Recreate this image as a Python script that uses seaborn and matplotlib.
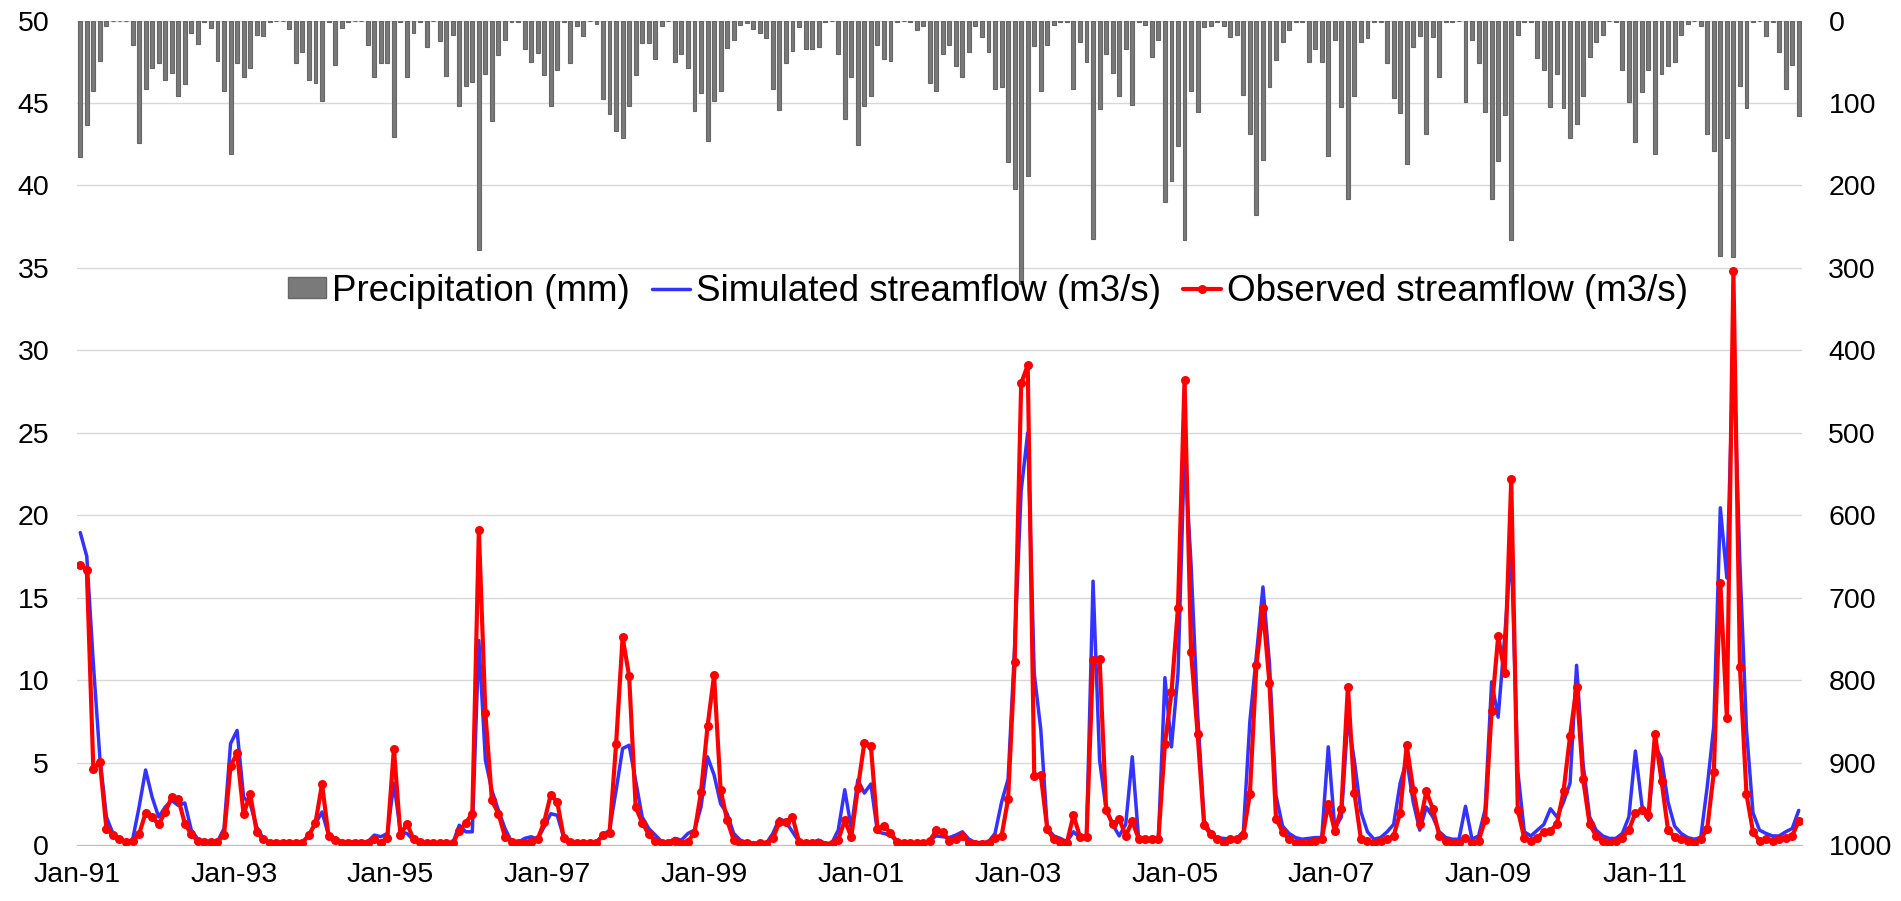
import numpy as np
import pandas as pd
import seaborn as sns
import matplotlib.pyplot as plt
from matplotlib.patches import Patch
from matplotlib.lines import Line2D

# Monthly precipitation (mm), Jan 1991 - Dec 2012
precipitation = [
    166, 127, 85, 49, 6, 0, 0, 1, 29, 148,
    83, 57, 51, 72, 63, 91, 77, 15, 28, 2,
    9, 49, 86, 162, 52, 69, 58, 18, 19, 2,
    0, 0, 10, 51, 38, 72, 76, 97, 2, 54,
    9, 2, 1, 1, 30, 69, 51, 51, 141, 2,
    68, 15, 2, 32, 0, 25, 67, 18, 103, 79,
    74, 278, 65, 122, 42, 23, 2, 2, 34, 50,
    39, 66, 104, 60, 2, 51, 6, 19, 1, 4,
    95, 113, 134, 143, 104, 66, 27, 27, 47, 6,
    0, 50, 40, 57, 110, 88, 146, 97, 86, 33,
    23, 5, 3, 10, 15, 21, 83, 108, 52, 37,
    8, 35, 34, 32, 2, 0, 41, 119, 68, 151,
    103, 91, 30, 47, 49, 2, 0, 2, 12, 6,
    76, 85, 40, 30, 55, 68, 38, 7, 20, 38,
    83, 80, 172, 204, 320, 189, 31, 85, 30, 5,
    2, 2, 83, 26, 50, 265, 107, 40, 64, 91,
    35, 102, 2, 5, 44, 23, 220, 194, 152, 266,
    86, 111, 8, 6, 2, 7, 20, 17, 90, 137,
    236, 169, 81, 48, 26, 11, 2, 2, 50, 34,
    50, 164, 23, 105, 216, 91, 26, 21, 2, 2,
    51, 94, 112, 174, 32, 19, 137, 20, 69, 2,
    2, 0, 99, 23, 51, 111, 217, 170, 115, 266,
    17, 2, 2, 45, 60, 105, 65, 106, 143, 125,
    91, 44, 26, 17, 0, 2, 60, 99, 147, 87,
    60, 162, 65, 55, 50, 17, 4, 0, 7, 138,
    158, 286, 142, 287, 79, 106, 2, 0, 19, 2,
    38, 83, 54, 116,
]

# Simulated streamflow (m3/s)
simulated = [
    18.95, 17.5, 11.0, 5.3, 1.7, 0.7, 0.35, 0.2, 0.3, 2.3,
    4.55, 2.9, 1.7, 2.3, 2.7, 2.4, 2.55, 0.9, 0.35, 0.2,
    0.2, 0.2, 1.0, 6.15, 6.95, 2.9, 2.5, 1.1, 0.4, 0.15,
    0.15, 0.15, 0.15, 0.15, 0.15, 0.6, 1.3, 2.0, 0.6, 0.4,
    0.2, 0.2, 0.2, 0.2, 0.2, 0.6, 0.5, 0.7, 3.75, 0.8,
    0.7, 0.3, 0.2, 0.1, 0.1, 0.1, 0.1, 0.1, 1.2, 0.8,
    0.8, 12.4, 5.15, 3.3, 2.1, 1.0, 0.2, 0.15, 0.4, 0.5,
    0.35, 1.1, 1.9, 1.8, 0.45, 0.2, 0.15, 0.15, 0.15, 0.15,
    0.6, 0.9, 3.3, 5.85, 6.05, 3.9, 1.7, 1.0, 0.6, 0.2,
    0.15, 0.4, 0.3, 0.7, 0.9, 2.3, 5.35, 4.25, 2.5, 1.9,
    0.7, 0.3, 0.15, 0.1, 0.15, 0.1, 0.7, 1.6, 1.4, 0.8,
    0.2, 0.15, 0.15, 0.3, 0.1, 0.1, 0.9, 3.35, 1.0, 3.95,
    3.15, 3.7, 0.8, 0.7, 0.6, 0.2, 0.1, 0.15, 0.1, 0.1,
    0.3, 0.55, 0.5, 0.45, 0.6, 0.8, 0.35, 0.15, 0.15, 0.2,
    0.7, 2.6, 4.0, 12.0, 21.5, 25.0, 10.4, 7.0, 1.0, 0.55,
    0.4, 0.2, 0.8, 0.45, 0.55, 16.0, 5.15, 2.15, 1.25, 0.55,
    1.25, 5.35, 0.25, 0.25, 0.25, 0.35, 10.15, 5.95, 10.4, 24.0,
    17.0, 8.0, 1.5, 0.7, 0.45, 0.4, 0.35, 0.4, 0.8, 7.5,
    11.5, 15.65, 11.0, 3.0, 1.15, 0.7, 0.45, 0.35, 0.4, 0.45,
    0.45, 5.95, 1.0, 1.7, 7.65, 5.1, 2.0, 0.8, 0.35, 0.45,
    0.8, 1.25, 3.75, 5.15, 2.6, 0.9, 2.3, 1.7, 0.8, 0.45,
    0.35, 0.35, 2.35, 0.35, 0.55, 2.15, 9.9, 7.75, 12.65, 18.1,
    4.5, 0.8, 0.55, 0.9, 1.25, 2.2, 1.7, 2.6, 3.75, 10.9,
    4.9, 1.7, 0.9, 0.55, 0.4, 0.4, 0.7, 1.7, 5.7, 2.4,
    1.5, 6.05, 5.25, 2.6, 1.15, 0.7, 0.45, 0.35, 0.45, 3.55,
    7.2, 20.45, 16.2, 30.0, 17.0, 7.0, 1.95, 0.9, 0.7, 0.55,
    0.55, 0.8, 1.0, 2.1,
]

# Observed streamflow (m3/s)
observed = [
    17.0, 16.7, 4.6, 5.05, 1.0, 0.6, 0.35, 0.2, 0.25, 0.65,
    1.95, 1.7, 1.25, 2.0, 2.9, 2.8, 1.3, 0.65, 0.25, 0.2,
    0.2, 0.2, 0.6, 4.8, 5.55, 1.85, 3.1, 0.8, 0.35, 0.15,
    0.15, 0.15, 0.15, 0.15, 0.15, 0.6, 1.35, 3.7, 0.55, 0.3,
    0.15, 0.15, 0.15, 0.15, 0.15, 0.35, 0.15, 0.45, 5.85, 0.6,
    1.3, 0.35, 0.2, 0.1, 0.1, 0.1, 0.1, 0.1, 0.85, 1.35,
    1.9, 19.1, 8.0, 2.7, 1.9, 0.5, 0.2, 0.15, 0.15, 0.2,
    0.35, 1.4, 3.05, 2.6, 0.45, 0.2, 0.15, 0.15, 0.15, 0.15,
    0.6, 0.7, 6.1, 12.6, 10.25, 2.3, 1.35, 0.65, 0.25, 0.1,
    0.1, 0.25, 0.1, 0.2, 0.75, 3.2, 7.2, 10.3, 3.35, 1.5,
    0.3, 0.1, 0.1, 0.0, 0.15, 0.05, 0.4, 1.4, 1.4, 1.7,
    0.2, 0.15, 0.15, 0.15, 0.0, 0.05, 0.3, 1.5, 0.5, 3.45,
    6.2, 6.0, 1.0, 1.15, 0.75, 0.2, 0.1, 0.15, 0.1, 0.1,
    0.25, 0.9, 0.8, 0.25, 0.35, 0.55, 0.15, 0.05, 0.05, 0.15,
    0.45, 0.55, 2.8, 11.1, 28.0, 29.1, 4.2, 4.25, 0.95, 0.35,
    0.2, 0.15, 1.8, 0.5, 0.5, 11.2, 11.3, 2.15, 1.25, 1.6,
    0.55, 1.45, 0.35, 0.35, 0.35, 0.35, 6.15, 9.25, 14.4, 28.2,
    11.7, 6.75, 1.2, 0.65, 0.35, 0.1, 0.35, 0.35, 0.6, 3.1,
    10.9, 14.35, 9.8, 1.6, 0.8, 0.35, 0.15, 0.1, 0.15, 0.25,
    0.35, 2.5, 0.85, 2.2, 9.6, 3.15, 0.35, 0.25, 0.1, 0.25,
    0.35, 0.55, 1.95, 6.05, 3.35, 1.25, 3.25, 2.2, 0.55, 0.25,
    0.15, 0.15, 0.45, 0.1, 0.25, 1.5, 8.15, 12.65, 10.45, 22.2,
    2.15, 0.4, 0.25, 0.45, 0.8, 0.85, 1.3, 3.25, 6.6, 9.6,
    4.0, 1.25, 0.55, 0.25, 0.1, 0.25, 0.45, 0.9, 1.95, 2.1,
    1.8, 6.75, 3.9, 0.9, 0.5, 0.35, 0.25, 0.1, 0.35, 1.0,
    4.4, 15.9, 7.7, 34.8, 10.8, 3.1, 0.8, 0.25, 0.35, 0.25,
    0.35, 0.45, 0.55, 1.45,
]

tick_labels = ['Jan-91', 'Jan-93', 'Jan-95', 'Jan-97', 'Jan-99', 'Jan-01',
               'Jan-03', 'Jan-05', 'Jan-07', 'Jan-09', 'Jan-11']

months = pd.date_range('1991-01-01', periods=len(precipitation), freq='MS')
df = pd.DataFrame({
    'pos': np.arange(len(months)),
    'month': months,
    'precip': precipitation,
    'sim': simulated,
    'obs': observed,
})

sns.set_style('white')
plt.rcParams['font.family'] = ['Liberation Sans', 'DejaVu Sans']
plt.rcParams['text.color'] = 'black'
plt.rcParams['xtick.color'] = 'black'
plt.rcParams['ytick.color'] = 'black'

bar_color = '#7a7a7a'
blue = '#3333ff'
red = '#ff0000'

fig, ax = plt.subplots(figsize=(19.01, 9.01), dpi=100)
fig.subplots_adjust(left=77 / 1901, right=1802 / 1901,
                    top=1 - 20.6 / 901, bottom=1 - 845 / 901)

# precipitation bars hang from the top on the (inverted) right axis
sns.barplot(data=df, x='pos', y='precip', ax=ax, color=bar_color,
            saturation=1, width=0.6, edgecolor='#666666', linewidth=0.8)
ax.set_ylim(1000, 0)
ax.set_yticks(range(0, 1001, 100))
ax.grid(axis='y', color='#d9d9d9', lw=1)
ax.grid(axis='x', visible=False)
ax.set_axisbelow(True)

# streamflow lines on the left axis
ax2 = ax.twinx()
sns.lineplot(data=df, x='pos', y='sim', ax=ax2, color=blue, lw=2.5)
sns.lineplot(data=df, x='pos', y='obs', ax=ax2, color=red, lw=3.0,
             marker='o', markersize=6.5, markeredgewidth=0)
ax2.set_ylim(0, 50)
ax2.set_yticks(range(0, 51, 5))

# twinx puts the first axis on the left; swap sides
ax.yaxis.tick_right()
ax2.yaxis.tick_left()

ax.set_xlim(-0.5, len(months) - 0.5)
ax.set_xticks([-0.5 + 24 * k for k in range(12)])
ax.set_xticklabels(tick_labels + [''])

for a in (ax, ax2):
    a.set_xlabel('')
    a.set_ylabel('')
    for s in ('top', 'left', 'right'):
        a.spines[s].set_visible(False)
ax2.spines['bottom'].set_visible(False)
ax.spines['bottom'].set_color('#bfbfbf')

ax.tick_params(axis='x', length=6, width=1, color='#bfbfbf', pad=6,
               labelsize=20.5, labelcolor='black')
ax.tick_params(axis='y', length=0, pad=19, labelsize=20.5, labelcolor='black')
ax2.tick_params(axis='y', length=0, pad=20, labelsize=20.5, labelcolor='black')

handles = [
    Patch(facecolor=bar_color, edgecolor='#666666', label='Precipitation (mm)'),
    Line2D([], [], color=blue, lw=2.5, label='Simulated streamflow (m3/s)'),
    Line2D([], [], color=red, lw=3.0, marker='o', markersize=6.5,
           markeredgewidth=0, label='Observed streamflow (m3/s)'),
]
ax2.legend(handles=handles, loc='center', bbox_to_anchor=(0.528, 0.672),
           ncol=3, frameon=False, fontsize=26.5, handlelength=1.05,
           handletextpad=0.15, columnspacing=0.6, handleheight=0.5,
           borderpad=0, borderaxespad=0, labelcolor='black')

fig.savefig('out.png', dpi=100)
